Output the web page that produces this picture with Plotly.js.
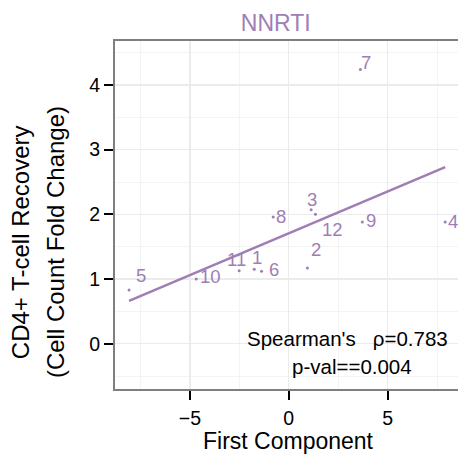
<!DOCTYPE html>
<html>
<head>
<meta charset="utf-8">
<script src="https://cdn.plot.ly/plotly-3.0.1.min.js"></script>
<style>
html,body{margin:0;padding:0;overflow:hidden;background:#fff;}
#plot{width:470px;height:454px;}
</style>
</head>
<body>
<div id="plot"></div>
<script>
// ---- data ----
const sampleIds = ["1","2","3","4","5","6","7","8","9","10","11","12"];
const firstComponent = [-1.75, 0.94, 1.13, 7.91, -8.08, -1.38, 3.62, -0.79, 3.72, -4.68, -2.51, 1.35];
const cd4Recovery = [1.15, 1.17, 2.07, 1.88, 0.83, 1.12, 4.24, 1.96, 1.88, 1.00, 1.13, 2.00];
const xTicks = [-5, 0, 5];
const yTicks = [0, 1, 2, 3, 4];
const panelTitle = "NNRTI";
const statLine1 = "Spearman's\u00a0\u00a0\u00a0ρ=0.783";
const statLine2 = "p-val==0.004";

// label offsets (pixels, styling only): [dx, dy down]
const labelOffsets = [[3,-12],[9,-19],[1,-10],[8,-1],[12,-15],[12,-2],[6,-7],[8,0],[9,-2],[14,-3],[-3,-11],[17,15]];

const purple = '#9f7db5';
const font = 'Liberation Sans, Arial, sans-serif';

// least-squares fit from the data
const n = firstComponent.length;
const mx = firstComponent.reduce((a,b)=>a+b,0)/n;
const my = cd4Recovery.reduce((a,b)=>a+b,0)/n;
let sxy=0, sxx=0;
for (let i=0;i<n;i++){ sxy += (firstComponent[i]-mx)*(cd4Recovery[i]-my); sxx += (firstComponent[i]-mx)**2; }
const slope = sxy/sxx, intercept = my - slope*mx;
const xmin = Math.min(...firstComponent), xmax = Math.max(...firstComponent);
const fitX = [xmin, xmax];
const fitY = fitX.map(x => intercept + slope*x);

// geometry
const W=470, H=454, L=115, R=461.5, T=41, B=389;
const pxX = px => (px-L)/(R-L);
const pxY = py => (B-py)/(B-T);

const traces = [
  {x: fitX, y: fitY, mode:'lines', line:{color:purple, width:2.5}, hoverinfo:'skip'},
  {x: firstComponent, y: cd4Recovery, mode:'markers', marker:{color:purple, size:3}}
];

const annotations = sampleIds.map((id,i)=>({
  x: firstComponent[i], y: cd4Recovery[i], xref:'x', yref:'y', text: id, showarrow:false,
  xanchor:'center', yanchor:'middle', xshift: labelOffsets[i][0], yshift: -labelOffsets[i][1],
  font:{family:font, size:18.5, color:purple}
}));
annotations.push(
  {xref:'paper', yref:'paper', x:pxX(347.5), y:pxY(338), text:statLine1, showarrow:false, xanchor:'center', yanchor:'middle', font:{family:font, size:20.5, color:'#000'}},
  {xref:'paper', yref:'paper', x:pxX(352), y:pxY(366), text:statLine2, showarrow:false, xanchor:'center', yanchor:'middle', font:{family:font, size:20.5, color:'#000'}},
  {xref:'paper', yref:'paper', x:pxX(20), y:pxY(242), text:'CD4+ T-cell Recovery', textangle:-90, showarrow:false, xanchor:'center', yanchor:'middle', font:{family:font, size:24, color:'#000'}},
  {xref:'paper', yref:'paper', x:pxX(55), y:pxY(242), text:'(Cell Count Fold Change)', textangle:-90, showarrow:false, xanchor:'center', yanchor:'middle', font:{family:font, size:24, color:'#000'}}
);

const layout = {
  width: W, height: H,
  margin: {l:L, r:W-R, t:T, b:H-B, pad:0},
  paper_bgcolor:'#fff', plot_bgcolor:'#fff',
  showlegend:false,
  title: {text: panelTitle, font:{family:font, size:23, color:purple}, x: pxX(276), xref:'paper', xanchor:'center', y: 1-23/H, yref:'container', yanchor:'middle'},
  xaxis: {
    range:[-8.79, 8.71], tickvals:xTicks, ticktext:xTicks.map(v=>v<0?'\u2212'+Math.abs(v):String(v)),
    ticks:'outside', ticklen:9, tickwidth:2, tickcolor:'#000', ticklabelstandoff:2,
    showgrid:true, gridcolor:'#ebebeb', gridwidth:1.2, zeroline:false,
    minor:{dtick:2.5, tick0:0, showgrid:true, gridcolor:'#f4f4f4', gridwidth:1, ticks:''},
    showline:true, linecolor:'#7f7f7f', linewidth:2, mirror:true,
    tickfont:{family:font, size:19.5, color:'#000'},
    title:{text:'First Component', font:{family:font, size:23, color:'#000'}, standoff:9}
  },
  yaxis: {
    range:[-0.70, 4.68], tickvals:yTicks,
    ticks:'outside', ticklen:9, tickwidth:2, tickcolor:'#000',
    showgrid:true, gridcolor:'#ebebeb', gridwidth:1.2, zeroline:false,
    minor:{dtick:0.5, tick0:0, showgrid:true, gridcolor:'#f4f4f4', gridwidth:1, ticks:''},
    showline:true, linecolor:'#7f7f7f', linewidth:2, mirror:true,
    tickfont:{family:font, size:19.5, color:'#000'}
  },
  annotations
};

Plotly.newPlot('plot', traces, layout, {displayModeBar:false, staticPlot:true});
</script>
</body>
</html>
